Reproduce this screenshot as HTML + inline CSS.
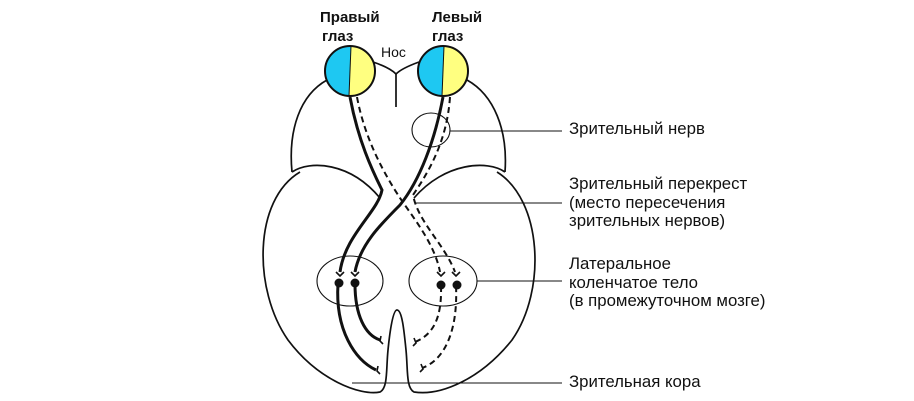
<!DOCTYPE html>
<html><head><meta charset="utf-8"><style>
html,body{margin:0;padding:0;background:#fff;width:914px;height:401px;overflow:hidden}
svg{display:block}
text{font-family:"Liberation Sans",sans-serif;fill:#111}
</style></head><body>
<svg width="914" height="401" viewBox="0 0 914 401">
<g fill="none" stroke="#111" stroke-width="1.7">
<path d="M327,80 C300,95 288,130 292,172"/>
<path d="M467,80 C494,95 508,130 505,172"/>
<path d="M373,62 C385,66 392,70 396,74 C400,70 408,66 419,62"/>
<path d="M396,74 L396,107"/>
<path d="M292,172 C310,160 350,162 380,198"/>
<path d="M505,172 C488,160 445,162 414,198"/>
<path d="M300,172 C253,200 253,290 288,340 C318,380 360,396 380,392 C388,388 386,370 388,350 C390,330 393,310 397,310 C402,310 404,330 406,350 C408,370 406,388 414,392 C440,396 480,380 512,340 C547,290 542,200 497,172"/>
<ellipse cx="350" cy="281" rx="33" ry="25" stroke-width="1.1"/>
<ellipse cx="443" cy="281" rx="34" ry="25" stroke-width="1.1"/>
<ellipse cx="431" cy="130" rx="19" ry="17" stroke-width="1.1"/>
<g stroke-width="1">
<line x1="450" y1="131" x2="562" y2="131"/>
<line x1="415" y1="203" x2="562" y2="203"/>
<line x1="477" y1="281" x2="562" y2="281"/>
<line x1="352" y1="383" x2="562" y2="383"/>
</g>
<g stroke-width="3">
<path d="M350,97 C358,140 372,170 382,190 C378,212 345,235 340,272"/>
<path d="M443,97 C435,140 420,180 400,205 C380,225 360,245 355,272"/>
<path d="M338,284 C335,330 355,360 376,370"/>
<path d="M355,284 C355,315 365,335 380,340"/>
</g>
<g stroke-width="2" stroke-dasharray="6,4">
<path d="M357,97 C365,140 385,175 400,198 C415,220 435,245 440,272"/>
<path d="M450,97 C447,140 430,170 413,195 C418,222 445,245 455,272"/>
<path d="M441,286 C442,320 432,335 415,342"/>
<path d="M456,286 C458,330 445,360 422,368"/>
</g>
<g stroke-width="1.6">
<path d="M336,272 L340,276 L344,272"/><path d="M351,272 L355,276 L359,272"/>
<path d="M437,272 L441,276 L445,272"/><path d="M452,272 L456,276 L460,272"/>
<path d="M378,366 L377,371 L380,374"/><path d="M381,336 L380,341 L383,344"/>
<path d="M414,338 L416,343 L413,346"/><path d="M421,364 L423,369 L420,372"/>
</g>
</g>
<g fill="#111">
<circle cx="339" cy="283" r="4.5"/><circle cx="355" cy="283" r="4.5"/>
<circle cx="441" cy="285" r="4.5"/><circle cx="457" cy="285" r="4.5"/>
</g>
<circle cx="350" cy="71" r="25" fill="#ffff80"/>
<path d="M351,46 L349,96 A25,25 0 0 1 351,46 Z" fill="#1ec8f2"/>
<circle cx="350" cy="71" r="25" fill="none" stroke="#111" stroke-width="2"/>
<line x1="351" y1="46" x2="349" y2="96" stroke="#111" stroke-width="1"/>
<circle cx="443" cy="71" r="25" fill="#ffff80"/>
<path d="M444,46 L442,96 A25,25 0 0 1 444,46 Z" fill="#1ec8f2"/>
<circle cx="443" cy="71" r="25" fill="none" stroke="#111" stroke-width="2"/>
<line x1="444" y1="46" x2="442" y2="96" stroke="#111" stroke-width="1"/>
<g font-weight="bold" font-size="15">
<text x="320" y="22">Правый</text><text x="322" y="41">глаз</text>
<text x="432" y="22">Левый</text><text x="432" y="41">глаз</text>
</g>
<text x="381" y="57" font-size="14">Нос</text>
<g font-size="16.8">
<text x="569" y="134">Зрительный нерв</text>
<text x="569" y="189">Зрительный перекрест</text>
<text x="569" y="208">(место пересечения</text>
<text x="569" y="226">зрительных нервов)</text>
<text x="569" y="269">Латеральное</text>
<text x="569" y="288">коленчатое тело</text>
<text x="569" y="306">(в промежуточном мозге)</text>
<text x="569" y="387">Зрительная кора</text>
</g>
</svg>
</body></html>
